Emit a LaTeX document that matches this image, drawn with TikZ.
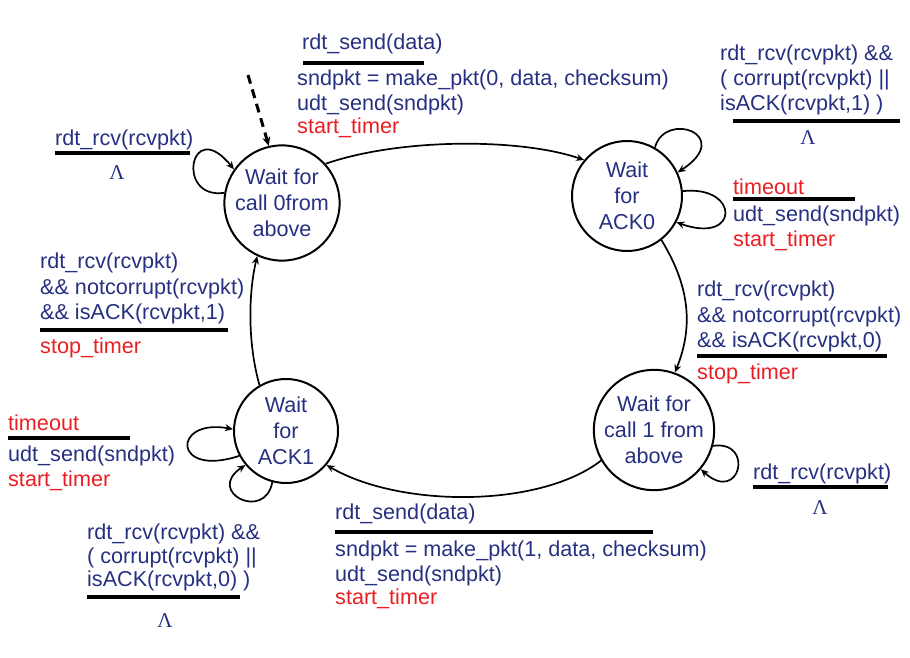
\documentclass[tikz,border=0pt]{standalone}
\usepackage{fontspec}
\setmainfont{Liberation Sans}
\newfontfamily\lamfont{Liberation Serif}
\usetikzlibrary{arrows.meta}
\definecolor{navy}{RGB}{38,48,128}
\definecolor{alarm}{RGB}{235,30,35}
\begin{document}
\begin{tikzpicture}[x=1pt,y=-1pt,
  state/.style={circle,draw=black,line width=2pt,inner sep=0pt,text=navy,align=center,
    font=\fontsize{21.6}{26}\selectfont},
  txt/.style={anchor=base west,inner sep=0pt,text=navy,font=\fontsize{21.6}{25}\selectfont},
  act/.style={txt,text=alarm},
  lam/.style={inner sep=0pt,text=navy,font=\lamfont\fontsize{21}{21}\selectfont},
  rulebar/.style={line width=3.4pt,black},
  trans/.style={line width=1.7pt,-{Stealth[length=8pt,width=7pt]}},
  startarrow/.style={line width=3pt,dash pattern=on 9pt off 6pt,-{Stealth[length=9pt,width=8pt]}}]
\useasboundingbox (0,0) rectangle (910,658);

% states
\node[state,minimum size=108pt] (s0) at (282,203) {Wait for\\call 0from\\above};
\node[state,minimum size=110pt] (s1) at (627,196) {Wait\\for\\ACK0};
\node[state,minimum size=114pt] (s2) at (654,430) {Wait for\\call 1 from\\above};
\node[state,minimum size=104pt] (s3) at (286,431) {Wait\\for\\ACK1};

% initial state marker
\coordinate (init) at (248,75);
\draw[startarrow] (init) -- (s0.103);

% transitions between states
\draw[trans] (s0.42) .. controls (400,138) and (520,138) .. (s1.140);
\draw[trans] (s1.-52) .. controls (692,290) and (692,330) .. (s2.70);
\draw[trans] (s2.210) .. controls (540,508) and (400,508) .. (s3.-40);
\draw[trans] (s3.120) .. controls (248,345) and (248,295) .. (s0.-115);

% self loops
\draw[trans] (s0.170) .. controls (175,200) and (190,115) .. (s0.145);
\draw[trans] (s1.60) .. controls (665,110) and (735,135) .. (s1.25);
\draw[trans] (s1.5) .. controls (740,185) and (740,245) .. (s1.-28);
\draw[trans] (s2.-15) .. controls (755,440) and (740,505) .. (s2.-40);
\draw[trans] (s3.208) .. controls (172,478) and (172,418) .. (s3.178);
\draw[trans] (s3.-105) .. controls (265,522) and (205,492) .. (s3.220);

% s0 -> s1
\node[txt] (e01) at (302,50) {rdt\_send(data)};
\draw[rulebar] (303,63) -- (424,63);
\node[txt] (a01a) at (297,86) {sndpkt = make\_pkt(0, data, checksum)};
\node[txt] (a01b) at (297,111) {udt\_send(sndpkt)};
\node[act] (a01c) at (297,134) {start\_timer};

% s1 loop: corrupt or wrong ACK
\node[txt] (e11a) at (720,61) {rdt\_rcv(rcvpkt) \&\&};
\node[txt] (e11b) at (720,86) {( corrupt(rcvpkt) ||};
\node[txt] (e11c) at (720,111) {isACK(rcvpkt,1) )};
\draw[rulebar] (733,121) -- (900,121);
\node[lam] (l11) at (808,138) {Λ};

% s1 loop: timeout
\node[act] (e12) at (733,194) {timeout};
\draw[rulebar] (733,199) -- (855,199);
\node[txt] (a12a) at (733,221) {udt\_send(sndpkt)};
\node[act] (a12b) at (733,246) {start\_timer};

% s1 -> s2
\node[txt] (e12a) at (697,296) {rdt\_rcv(rcvpkt)};
\node[txt] (e12b) at (697,322) {\&\& notcorrupt(rcvpkt)};
\node[txt] (e12c) at (697,347) {\&\& isACK(rcvpkt,0)};
\draw[rulebar] (697,356) -- (887,356);
\node[act] (a12s) at (697,379) {stop\_timer};

% s2 loop
\node[txt] (e22) at (753,479) {rdt\_rcv(rcvpkt)};
\draw[rulebar] (753,487) -- (888,487);
\node[lam] (l22) at (820,508) {Λ};

% s0 loop
\node[txt] (e00) at (55,146) {rdt\_rcv(rcvpkt)};
\draw[rulebar] (55,153) -- (190,153);
\node[lam] (l00) at (117,173) {Λ};

% s3 -> s0
\node[txt] (e30a) at (40,268) {rdt\_rcv(rcvpkt)};
\node[txt] (e30b) at (40,294) {\&\& notcorrupt(rcvpkt)};
\node[txt] (e30c) at (40,319) {\&\& isACK(rcvpkt,1)};
\draw[rulebar] (40,330) -- (228,330);
\node[act] (a30s) at (40,353) {stop\_timer};

% s3 loop: timeout
\node[act] (e33) at (8,430) {timeout};
\draw[rulebar] (8,438) -- (130,438);
\node[txt] (a33a) at (8,461) {udt\_send(sndpkt)};
\node[act] (a33b) at (8,486) {start\_timer};

% s3 loop: corrupt or wrong ACK
\node[txt] (e34a) at (87,539) {rdt\_rcv(rcvpkt) \&\&};
\node[txt] (e34b) at (87,563) {( corrupt(rcvpkt) ||};
\node[txt] (e34c) at (87,586) {isACK(rcvpkt,0) )};
\draw[rulebar] (87,597) -- (240,597);
\node[lam] (l34) at (165,621) {Λ};

% s2 -> s3
\node[txt] (e23) at (335,519) {rdt\_send(data)};
\draw[rulebar] (335,532) -- (653,532);
\node[txt] (a23a) at (335,556) {sndpkt = make\_pkt(1, data, checksum)};
\node[txt] (a23b) at (335,581) {udt\_send(sndpkt)};
\node[act] (a23c) at (335,604) {start\_timer};
\end{tikzpicture}
\end{document}
